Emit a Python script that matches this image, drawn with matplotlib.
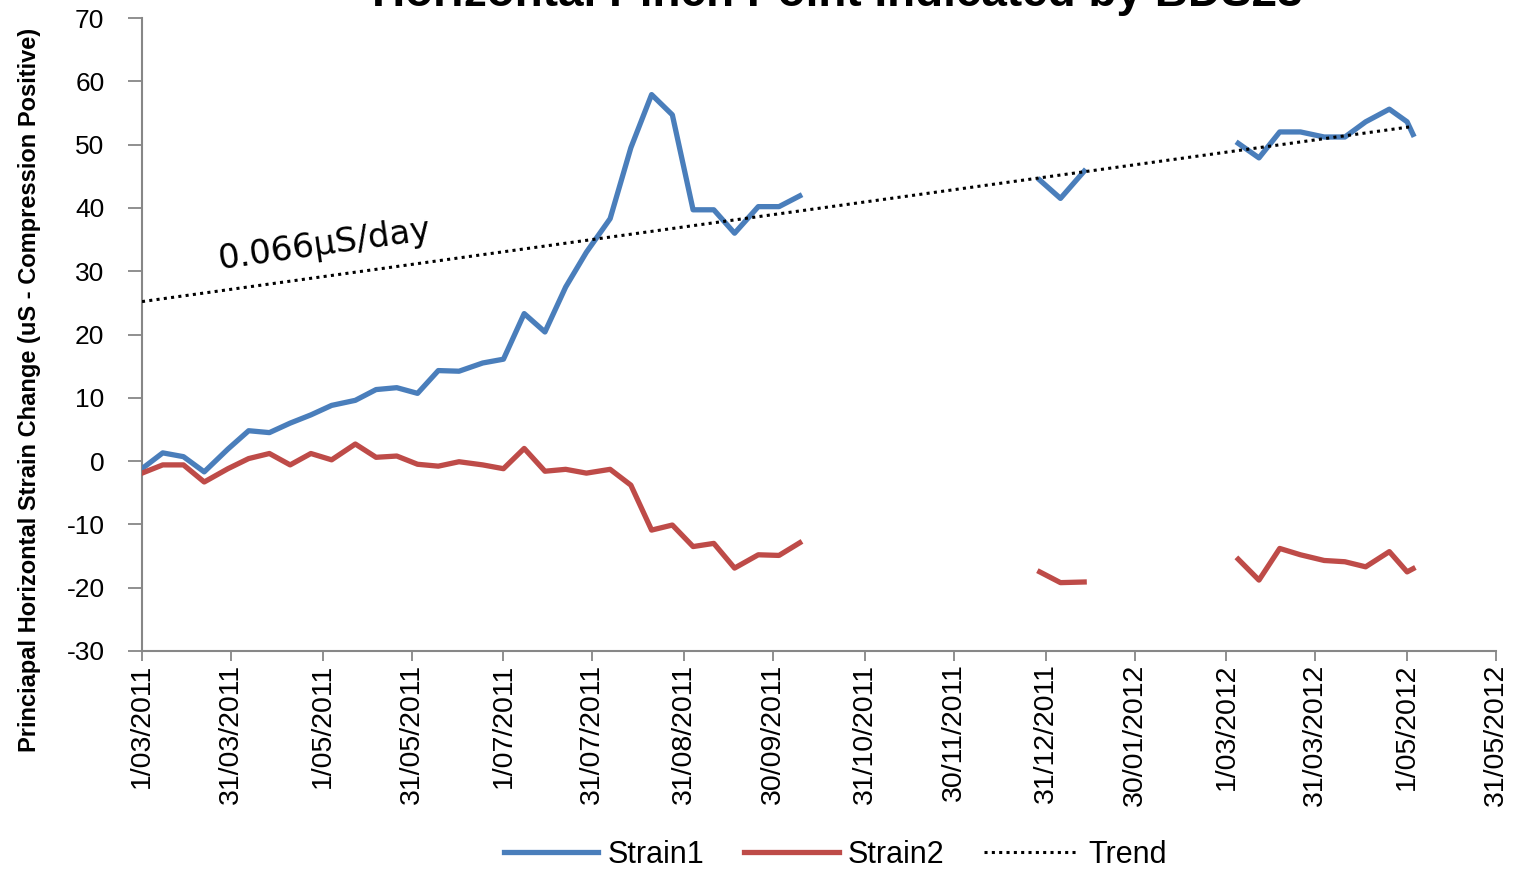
import numpy as np
import matplotlib
matplotlib.use("Agg")
import matplotlib.pyplot as plt
import matplotlib.dates as mdates
from matplotlib import font_manager
from datetime import datetime

# measurement dates (three campaigns, gaps in between)
dates = [
    "2011-03-01", "2011-03-08", "2011-03-15", "2011-03-22", "2011-03-30", "2011-04-06",
    "2011-04-13", "2011-04-20", "2011-04-27", "2011-05-04", "2011-05-12", "2011-05-19",
    "2011-05-26", "2011-06-02", "2011-06-09", "2011-06-16", "2011-06-24", "2011-07-01",
    "2011-07-08", "2011-07-15", "2011-07-22", "2011-07-29", "2011-08-06", "2011-08-13",
    "2011-08-20", "2011-08-27", "2011-09-03", "2011-09-10", "2011-09-17", "2011-09-25",
    "2011-10-02", "2011-10-09",
    "2011-12-29", "2012-01-05", "2012-01-13",
    "2012-03-05", "2012-03-12", "2012-03-19", "2012-03-26", "2012-04-03", "2012-04-10",
    "2012-04-17", "2012-04-25", "2012-05-01", "2012-05-03",
]

strain1 = [
    -1.2, 1.3, 0.7, -1.7, 1.9, 4.8, 4.5, 6.0, 7.3, 8.8, 9.6, 11.3,
    11.6, 10.7, 14.3, 14.2, 15.5, 16.1, 23.3, 20.4, 27.5, 33.0, 38.3, 49.5,
    57.9, 54.7, 39.7, 39.7, 36.0, 40.2, 40.2, 41.9,
    44.4, 41.5, 45.8,
    50.2, 47.9, 52.0, 52.0, 51.2, 51.2, 53.6, 55.6, 53.6, 51.6,
]

strain2 = [
    -1.9, -0.6, -0.6, -3.3, -1.2, 0.4, 1.2, -0.6, 1.2, 0.2, 2.7, 0.6,
    0.8, -0.5, -0.8, -0.1, -0.6, -1.2, 2.0, -1.6, -1.3, -1.9, -1.3, -3.8,
    -10.9, -10.1, -13.5, -13.0, -16.9, -14.8, -14.9, -12.9,
    -17.5, -19.2, -19.1,
    -15.5, -18.8, -13.8, -14.8, -15.7, -15.9, -16.7, -14.3, -17.5, -17.0,
]

# linear trend of Strain1 as drawn in the chart
trend_intercept = 25.2   # uS at first date
trend_slope = 0.0645     # uS per day

x_tick_labels = [
    "1/03/2011", "31/03/2011", "1/05/2011", "31/05/2011", "1/07/2011", "31/07/2011",
    "31/08/2011", "30/09/2011", "31/10/2011", "30/11/2011", "31/12/2011", "30/01/2012",
    "1/03/2012", "31/03/2012", "1/05/2012", "31/05/2012",
]
y_ticks = [-30, -20, -10, 0, 10, 20, 30, 40, 50, 60, 70]

BLUE = "#4A7EBB"
RED = "#BE4B48"
AXIS = "#878787"

names = {f.name for f in font_manager.fontManager.ttflist}
NARROW = "Liberation Sans Narrow" if "Liberation Sans Narrow" in names else "Liberation Sans"

fig = plt.figure(figsize=(15.15, 8.69), dpi=100)
ax = fig.add_axes([142 / 1515, 1 - 651 / 869, (1496 - 142) / 1515, (651 - 18) / 869])

x = mdates.date2num([datetime.strptime(s, "%Y-%m-%d") for s in dates])
s1 = np.array(strain1)
s2 = np.array(strain2)

# split into campaigns wherever there is a long gap
breaks = np.where(np.diff(x) > 30)[0] + 1
for i, idx in enumerate(np.split(np.arange(len(x)), breaks)):
    ax.plot(x[idx], s1[idx], color=BLUE, lw=3.8, label="Strain1" if i == 0 else None, zorder=3)
    ax.plot(x[idx], s2[idx], color=RED, lw=3.8, label="Strain2" if i == 0 else None, zorder=3)

tx = np.array([x[0], x[-1]])
ax.plot(tx, trend_intercept + trend_slope * (tx - x[0]), color="black",
        lw=2.2, linestyle=(0, (1, 1.4)), label="Trend", zorder=4)

ax.text(x[0] + 61.5, 34.2, "0.066\u03bcS/day", fontsize=24.5, family="DejaVu Sans",
        rotation=8, rotation_mode="anchor", ha="center", va="center")

# axes
tick_pos = mdates.date2num([datetime.strptime(s, "%d/%m/%Y") for s in x_tick_labels])
ax.set_xlim(tick_pos[0], tick_pos[-1])
ax.set_ylim(-30, 70)
ax.set_xticks(tick_pos)
ax.set_xticklabels(x_tick_labels, rotation=90, fontsize=20.5, family=NARROW)
ax.set_yticks(y_ticks)
ax.set_yticklabels([str(v) for v in y_ticks], fontsize=19, family=NARROW)
ax.tick_params(axis="x", length=7, width=1.3, color=AXIS, pad=2)
ax.tick_params(axis="y", length=10, width=1.3, color=AXIS, pad=17)
for side in ["top", "right"]:
    ax.spines[side].set_visible(False)
for side in ["left", "bottom"]:
    ax.spines[side].set_color(AXIS)
    ax.spines[side].set_linewidth(1.5)

fig.text(30 / 1515, 1 - 390 / 869, "Princiapal Horizontal Strain Change (uS - Compression Positive)",
         rotation=90, ha="center", va="center", fontsize=17, fontweight="bold", family=NARROW)

# title sits mostly above the top edge, as in the original
fig.text(837 / 1515, 1 - 6 / 869, "Horizontal Pinch Point Indicated by BDS23",
         ha="center", va="baseline", fontsize=33, fontweight="bold", family="Liberation Sans")

fig.legend(loc="center", bbox_to_anchor=(835 / 1515, 1 - 855 / 869), ncol=3, frameon=False,
           prop={"family": "Liberation Sans", "size": 22}, handlelength=3.1,
           handletextpad=0.3, columnspacing=1.3)

plt.savefig("out.png", dpi=100)
plt.close()
